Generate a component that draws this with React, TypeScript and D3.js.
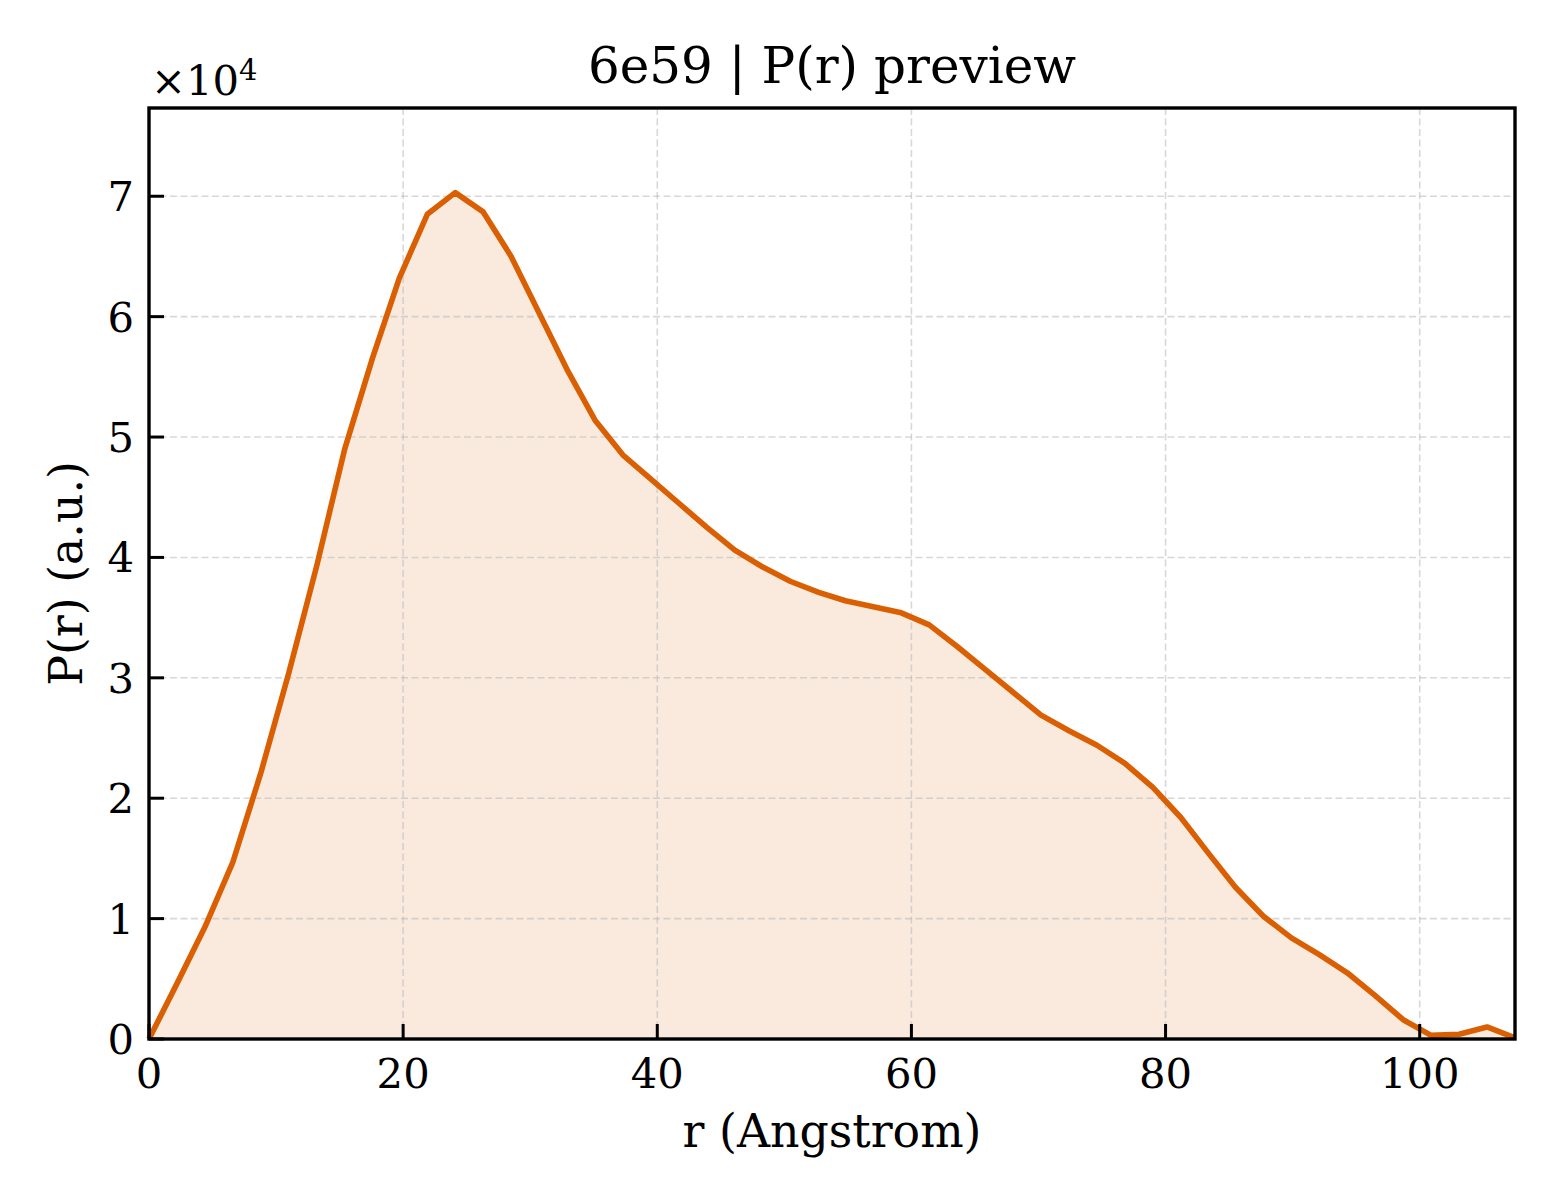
import * as d3 from "d3";

// P(r) distance distribution
const rValues = [
  0, 2.2, 4.4, 6.6, 8.8, 11.0, 13.2, 15.4, 17.6, 19.7,
  21.9, 24.1, 26.3, 28.5, 30.7, 32.9, 35.1, 37.3, 39.5, 41.7,
  43.9, 46.1, 48.3, 50.5, 52.7, 54.8, 57.0, 59.2, 61.4, 63.6,
  65.8, 68.0, 70.2, 72.4, 74.6, 76.8, 79.0, 81.2, 83.4, 85.5,
  87.7, 89.9, 92.1, 94.3, 96.5, 98.7, 100.9, 103.1, 105.3, 107.5,
];
const prValues = [
  0, 4600, 9300, 14700, 22100, 30400, 39300, 49000, 56600, 63200,
  68500, 70300, 68700, 65000, 60300, 55600, 51400, 48500, 46500, 44500,
  42500, 40600, 39200, 38000, 37100, 36400, 35900, 35400, 34400, 32600,
  30700, 28800, 26900, 25600, 24400, 22900, 20900, 18400, 15400, 12600,
  10200, 8400, 7000, 5500, 3600, 1600, 300, 400, 1000, 100,
];
const xTicks = [0, 20, 40, 60, 80, 100];
const yTicks = [0, 10000, 20000, 30000, 40000, 50000, 60000, 70000];

const W = 1560;
const H = 1200;
const margin = { left: 149, right: 45, top: 108, bottom: 161 };
const LINE = "#d95f02";
const FONT = "'DejaVu Serif', serif";

export default function App() {
  const pts = rValues.map((r, i) => ({ r, p: prValues[i] }));
  const x = d3
    .scaleLinear()
    .domain([0, d3.max(rValues) as number])
    .range([margin.left, W - margin.right]);
  const y = d3
    .scaleLinear()
    .domain([0, (d3.max(prValues) as number) * 1.1])
    .range([H - margin.bottom, margin.top]);

  const line = d3
    .line<{ r: number; p: number }>()
    .x((d) => x(d.r))
    .y((d) => y(d.p));
  const area = d3
    .area<{ r: number; p: number }>()
    .x((d) => x(d.r))
    .y0(y(0))
    .y1((d) => y(d.p));

  const [x0, x1] = x.range();
  const [yb, yt] = y.range();
  const tickLen = 15;

  return (
    <svg
      width={W}
      height={H}
      style={{ position: "absolute", left: 0, top: 0, background: "#fff" }}
      fontFamily={FONT}
    >
      {/* fill under curve */}
      <path d={area(pts) ?? ""} fill={LINE} fillOpacity={0.13} />

      {/* grid */}
      <g stroke="#b8b8b8" strokeOpacity={0.55} strokeWidth={1.6} strokeDasharray="7,3.5">
        {xTicks.map((t) => (
          <line key={"gx" + t} x1={x(t)} x2={x(t)} y1={yb} y2={yt} />
        ))}
        {yTicks.map((t) => (
          <line key={"gy" + t} x1={x0} x2={x1} y1={y(t)} y2={y(t)} />
        ))}
      </g>

      <path
        d={line(pts) ?? ""}
        fill="none"
        stroke={LINE}
        strokeWidth={5.6}
        strokeLinejoin="round"
      />

      {/* ticks (inward, left and bottom) */}
      <g stroke="#000" strokeWidth={3}>
        {xTicks.map((t) => (
          <line key={"tx" + t} x1={x(t)} x2={x(t)} y1={yb} y2={yb - tickLen} />
        ))}
        {yTicks.map((t) => (
          <line key={"ty" + t} x1={x0} x2={x0 + tickLen} y1={y(t)} y2={y(t)} />
        ))}
      </g>

      {/* frame */}
      <rect
        x={x0}
        y={yt}
        width={x1 - x0}
        height={yb - yt}
        fill="none"
        stroke="#000"
        strokeWidth={3.4}
      />

      {/* tick labels */}
      <g fontSize={41.7} fill="#000">
        {xTicks.map((t) => (
          <text key={"lx" + t} x={x(t)} y={yb + 49} textAnchor="middle">
            {t}
          </text>
        ))}
        {yTicks.map((t) => (
          <text key={"ly" + t} x={x0 - 15} y={y(t) + 15} textAnchor="end">
            {t / 10000}
          </text>
        ))}
      </g>

      {/* offset text */}
      <text x={151} y={95} fontSize={41.7}>
        ×10
        <tspan fontSize={29} dy={-15}>
          4
        </tspan>
      </text>

      {/* title and axis labels */}
      <text x={(x0 + x1) / 2} y={83} textAnchor="middle" fontSize={50}>
        6e59 | P(r) preview
      </text>
      <text x={(x0 + x1) / 2} y={1147} textAnchor="middle" fontSize={45.8}>
        r (Angstrom)
      </text>
      <text
        transform={`translate(82, ${(yb + yt) / 2}) rotate(-90)`}
        textAnchor="middle"
        fontSize={45.8}
      >
        P(r) (a.u.)
      </text>
    </svg>
  );
}
